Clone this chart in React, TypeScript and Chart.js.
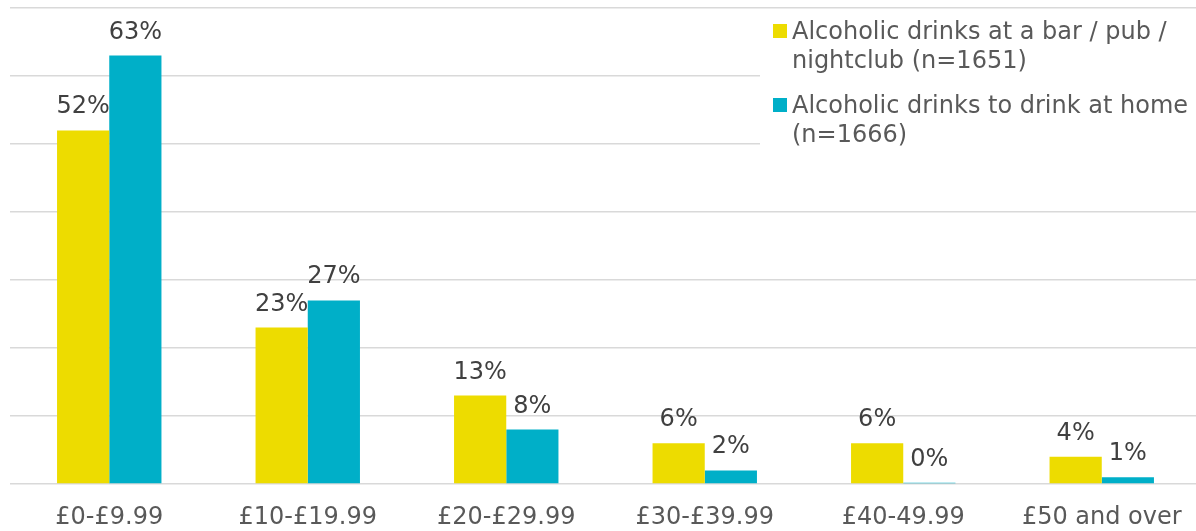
import React, { useEffect, useRef } from "react";
import { Chart, registerables } from "chart.js";

Chart.register(...registerables);

const categories = ["£0-£9.99", "£10-£19.99", "£20-£29.99", "£30-£39.99", "£40-49.99", "£50 and over"];
const barPubValues = [52, 23, 13, 6, 6, 4];
const homeValues = [63, 27, 8, 2, 0.2, 1];
const seriesLabels = ["Alcoholic drinks at a bar / pub / nightclub (n=1651)", "Alcoholic drinks to drink at home (n=1666)"];
const legendLines = [
  ["Alcoholic drinks at a bar / pub /", "nightclub (n=1651)"],
  ["Alcoholic drinks to drink at home", "(n=1666)"],
];
const colors = ["#EDDC00", "#00AFC8"];
const FONT = '"DejaVu Sans", Verdana, sans-serif';

const labelPlugin = {
  id: "barLabels",
  afterDatasetsDraw(chart: any) {
    const ctx = chart.ctx;
    ctx.save();
    ctx.font = `24px ${FONT}`;
    ctx.fillStyle = "#404040";
    ctx.textAlign = "center";
    ctx.textBaseline = "alphabetic";
    chart.data.datasets.forEach((ds: any, i: number) => {
      const meta = chart.getDatasetMeta(i);
      meta.data.forEach((el: any, j: number) => {
        const v = ds.data[j];
        ctx.fillText(Math.round(v) + "%", el.x, el.y - 17);
      });
    });
    ctx.restore();
  },
};

const legendPlugin = {
  id: "customLegend",
  afterDraw(chart: any) {
    const ctx = chart.ctx;
    ctx.save();
    ctx.fillStyle = "#ffffff";
    ctx.fillRect(760, 10, 441, 150);
    ctx.font = `24px ${FONT}`;
    ctx.textAlign = "left";
    ctx.textBaseline = "alphabetic";
    const tops = [24, 98];
    legendLines.forEach((lines, i) => {
      ctx.fillStyle = chart.data.datasets[i].backgroundColor;
      ctx.fillRect(773, tops[i], 14, 14);
      ctx.fillStyle = "#595959";
      lines.forEach((ln, k) => {
        ctx.fillText(ln, 792, tops[i] + 15 + k * 29);
      });
    });
    ctx.restore();
  },
};

export default function App() {
  const ref = useRef<HTMLCanvasElement>(null);
  useEffect(() => {
    if (!ref.current) return;
    const chart = new Chart(ref.current, {
      type: "bar",
      data: {
        labels: categories,
        datasets: [
          { label: seriesLabels[0], data: barPubValues, backgroundColor: colors[0] },
          { label: seriesLabels[1], data: homeValues, backgroundColor: colors[1] },
        ],
      },
      options: {
        animation: false,
        responsive: false,
        layout: { padding: { left: 10, right: 0, top: 8, bottom: 0 } },
        datasets: { bar: { categoryPercentage: 0.526, barPercentage: 1 } },
        plugins: { legend: { display: false }, tooltip: { enabled: false } },
        scales: {
          x: {
            grid: { display: false, drawTicks: false },
            border: { display: false },
            ticks: { color: "#595959", font: { family: FONT, size: 24 }, padding: 19, maxRotation: 0, autoSkip: false },
            afterFit: (scale: any) => {
              scale.height = 47;
            },
          },
          y: {
            min: 0,
            max: 70,
            ticks: { display: false, stepSize: 10 },
            grid: { color: "#d9d9d9", lineWidth: 1.5, drawTicks: false },
            border: { display: false },
          },
        },
      },
      plugins: [labelPlugin, legendPlugin],
    });
    return () => chart.destroy();
  }, []);
  return (
    <div style={{ position: "absolute", left: 0, top: 0, width: 1196, height: 531, overflow: "hidden", background: "#fff" }}>
      <canvas ref={ref} width={1201} height={531} style={{ display: "block" }} />
    </div>
  );
}
